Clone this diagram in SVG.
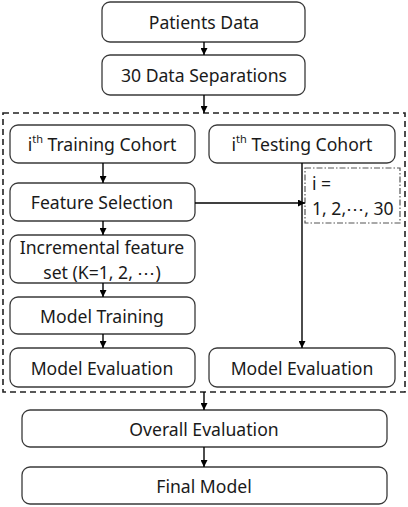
<svg xmlns="http://www.w3.org/2000/svg" width="408" height="507" viewBox="0 0 408 507">
<defs>
<style>
.box{fill:#fff;stroke:#3a3a3a;stroke-width:1.3}
.t{font-family:"Noto Sans","Liberation Sans",sans-serif;font-size:17.6px;fill:#1a1a1a;text-anchor:middle;dominant-baseline:central}
.c{stroke:#000;stroke-width:1.4;fill:none}
</style>
<marker id="ah" viewBox="0 0 10 10" refX="10" refY="5" markerWidth="5" markerHeight="5" orient="auto"><path d="M0,0 L10,5 L0,10 z" fill="#000"/></marker>
</defs>
<rect width="408" height="507" fill="#fff"/>
<g id="loop">
<rect x="3" y="113" width="402" height="279" fill="none" stroke="#222" stroke-width="1.6" stroke-dasharray="6,4"/>
</g>
<g id="patients"><rect class="box" x="102" y="2" width="203" height="40" rx="8"/><text class="t" x="204" y="22">Patients Data</text></g>
<g id="separations"><rect class="box" x="102" y="55" width="203" height="40" rx="8"/><text class="t" x="204" y="75">30 Data Separations</text></g>
<g id="training"><rect class="box" x="10" y="125" width="185" height="38" rx="8"/><text class="t" x="102" y="144">i<tspan font-size="11" dy="-6">th</tspan><tspan dy="6"> Training Cohort</tspan></text></g>
<g id="testing"><rect class="box" x="209" y="125" width="186" height="38" rx="8"/><text class="t" x="302" y="144">i<tspan font-size="11" dy="-6">th</tspan><tspan dy="6"> Testing Cohort</tspan></text></g>
<g id="featsel"><rect class="box" x="10" y="183" width="185" height="38" rx="8"/><text class="t" x="102" y="202">Feature Selection</text></g>
<g id="incremental"><rect class="box" x="10" y="235" width="185" height="48" rx="8"/><text class="t" x="102" y="247">Incremental feature</text><text class="t" x="102" y="271.5">set (K=1, 2, ⋯)</text></g>
<g id="modeltrain"><rect class="box" x="10" y="297" width="185" height="37" rx="8"/><text class="t" x="102" y="316">Model Training</text></g>
<g id="evalL"><rect class="box" x="10" y="348" width="185" height="39" rx="8"/><text class="t" x="102" y="368">Model Evaluation</text></g>
<g id="evalR"><rect class="box" x="209" y="348" width="186" height="39" rx="8"/><text class="t" x="302" y="368">Model Evaluation</text></g>
<g id="iloop"><rect x="305" y="168" width="95" height="55" fill="#fff" stroke="#555" stroke-width="1.2" stroke-dasharray="6,2,1.5,2"/><text class="t" style="text-anchor:start" x="312" y="183">i =</text><text class="t" style="text-anchor:start" x="312" y="208">1, 2,⋯, 30</text></g>
<g id="overall"><rect class="box" x="22" y="410" width="365" height="37" rx="8"/><text class="t" x="204" y="429">Overall Evaluation</text></g>
<g id="final"><rect class="box" x="22" y="467" width="365" height="37" rx="8"/><text class="t" x="204" y="486">Final Model</text></g>
<g id="connectors">
<line class="c" x1="204" y1="42" x2="204" y2="55" marker-end="url(#ah)"/>
<line class="c" x1="204" y1="95" x2="204" y2="113" marker-end="url(#ah)"/>
<line class="c" x1="103" y1="163" x2="103" y2="183" marker-end="url(#ah)"/>
<line class="c" x1="103" y1="221" x2="103" y2="235" marker-end="url(#ah)"/>
<line class="c" x1="103" y1="283" x2="103" y2="297" marker-end="url(#ah)"/>
<line class="c" x1="103" y1="334" x2="103" y2="348" marker-end="url(#ah)"/>
<line class="c" x1="195" y1="203" x2="305" y2="203" marker-end="url(#ah)"/>
<line class="c" x1="302" y1="163" x2="302" y2="348" marker-end="url(#ah)"/>
<line class="c" x1="204" y1="392" x2="204" y2="410" marker-end="url(#ah)"/>
<line class="c" x1="204" y1="447" x2="204" y2="467" marker-end="url(#ah)"/>
</g>
</svg>
